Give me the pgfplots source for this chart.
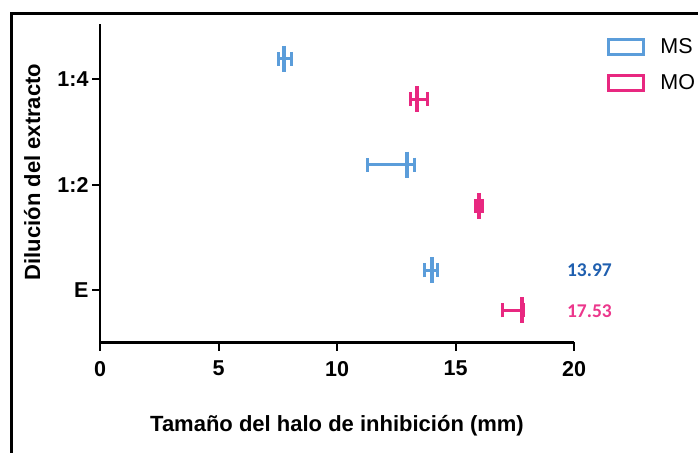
\documentclass[border=0pt]{standalone}
\usepackage{pgfplots}
\pgfplotsset{compat=1.18}
\usepackage{fontspec}
\setmainfont{Liberation Sans}
\newfontfamily\carlito{Carlito}
\definecolor{msblue}{RGB}{91,157,218}
\definecolor{mopink}{RGB}{232,40,128}
\definecolor{lblblue}{RGB}{31,95,175}
\definecolor{lblpink}{RGB}{236,55,140}
\pgfplotstableread{
x y ep em
7.76 2.19 0.34 0.21
12.95 1.19 0.30 1.68
14.00 0.19 0.26 0.30
}\msdata
\pgfplotstableread{
x y ep em
13.37 1.81 0.43 0.29
16.00 0.80 0.16 0.14
17.79 -0.19 0.06 0.79
}\modata
\begin{document}
\begin{tikzpicture}[x=1pt,y=1pt]
\useasboundingbox (0,0) rectangle (698,452);
\draw[line width=3.5pt] (11.5,-5) -- (11.5,438.7) -- (710,438.7);
\begin{axis}[
  at={(100pt,109.5pt)}, anchor=south west,
  scale only axis, width=474pt, height=318.5pt,
  xmin=0, xmax=20, ymin=-0.493, ymax=2.52,
  axis x line*=bottom, axis y line*=left,
  axis line style={line width=2.5pt, -},
  xtick={0,5,...,20}, ytick={0,1,2}, yticklabels={E,1:2,1:4},
  tick style={line width=2pt, black},
  tick align=outside, major tick length=8pt,
  tick label style={font=\fontsize{21.5}{24}\selectfont\bfseries},
  xticklabel style={yshift=-7pt},
  /pgf/number format/assume math mode=true,
  clip=false,
  legend style={at={(1.07,0.957)}, anchor=north west, draw=none, fill=none,
    inner sep=0pt, font=\fontsize{21.5}{24}\selectfont, row sep=18pt,
    nodes={inner sep=0pt}},
  legend cell align=left,
]
\addlegendimage{legend image code/.code={\draw[msblue,line width=3pt] (0pt,-7.5pt) rectangle (35pt,7.5pt);}}
\addlegendentry{\hspace{15pt}MS}
\addlegendimage{legend image code/.code={\draw[mopink,line width=3pt] (0pt,-7.5pt) rectangle (35pt,7.5pt);}}
\addlegendentry{\hspace{15pt}MO}
\addplot[msblue, only marks, mark=|, mark size=13pt, mark options={line width=4pt},
  error bars/.cd, x dir=both, x explicit,
  error bar style={line width=3pt, msblue},
  error mark options={rotate=90, msblue, mark size=7pt, line width=3pt}]
  table[x=x, y=y, x error plus=ep, x error minus=em] {\msdata};
\addplot[mopink, only marks, mark=|, mark size=13pt, mark options={line width=4pt},
  error bars/.cd, x dir=both, x explicit,
  error bar style={line width=3pt, mopink},
  error mark options={rotate=90, mopink, mark size=7pt, line width=3pt}]
  table[x=x, y=y, x error plus=ep, x error minus=em] {\modata};
\node[anchor=west, inner sep=0pt, text=lblblue, font=\carlito\bfseries\fontsize{19.5}{22}\selectfont] at (axis cs:19.7,0.19) {13.97};
\node[anchor=west, inner sep=0pt, text=lblpink, font=\carlito\bfseries\fontsize{19.5}{22}\selectfont] at (axis cs:19.7,-0.20) {17.53};
\end{axis}
\node[anchor=base, font=\fontsize{22}{26}\selectfont\bfseries] at (337,20) {Tamaño del halo de inhibición (mm)};
\node[anchor=base, rotate=90, font=\fontsize{22}{26}\selectfont\bfseries] at (40,280) {Dilución del extracto};
\end{tikzpicture}
\end{document}
